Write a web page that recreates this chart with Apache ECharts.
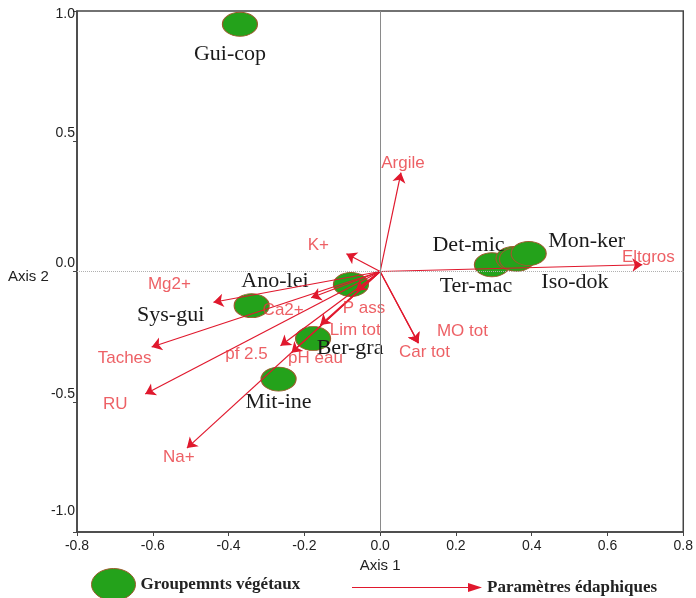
<!DOCTYPE html>
<html>
<head>
<meta charset="utf-8">
<script src="https://cdn.jsdelivr.net/npm/echarts@6/dist/echarts.min.js"></script>
<style>
html,body{margin:0;padding:0;background:#fff;}
#chart{width:696px;height:598px;}
</style>
</head>
<body>
<div id="chart"></div>
<script>
// Sites (vegetation groups)
const siteNames = ['Gui-cop','Ano-lei','Sys-gui','Ber-gra','Mit-ine','Ter-mac','Det-mic','Iso-dok','Mon-ker'];
const siteX = [-0.370, -0.077, -0.339, -0.177, -0.268, 0.295, 0.352, 0.361, 0.392];
const siteY = [0.949, -0.050, -0.131, -0.257, -0.413, 0.026, 0.050, 0.047, 0.069];

// Soil parameters (arrow tips)
const paramNames = ['Argile','Eltgros','K+','Mg2+','Ca2+','Taches','RU','Na+','pf 2.5','pH eau','Lim tot','P ass','MO tot','Car tot'];
const paramX = [0.055, 0.692, -0.089, -0.440, -0.182, -0.603, -0.620, -0.510, -0.263, -0.234, -0.158, -0.064, 0.101, 0.101];
const paramY = [0.380, 0.026, 0.068, -0.118, -0.101, -0.290, -0.470, -0.678, -0.285, -0.312, -0.205, -0.074, -0.275, -0.275];

// Axis ticks
const xTicks = {min: -0.8, max: 0.8, interval: 0.2};
const yTicks = {min: -1.0, max: 1.0, interval: 0.5};

// label offsets (pixels, style only)
const siteLabelOffset = {
  'Gui-cop':[-10,30],'Ano-lei':[-76,-3],'Sys-gui':[-81,10],'Ber-gra':[37,10],'Mit-ine':[0,23],
  'Ter-mac':[-16,21],'Det-mic':[-45,-13],'Iso-dok':[58,23],'Mon-ker':[58,-12]
};
const paramLabelOffset = {
  'Argile':[2,-9],'Eltgros':[6,-7],'K+':[-28,-8],'Mg2+':[-44,-18],'Ca2+':[-28,13],'Taches':[-27,11],
  'RU':[-30,10],'Na+':[-8,9],'pf 2.5':[-34,9],'pH eau':[24,6],'Lim tot':[35,5],'P ass':[8,18],
  'MO tot':[44,-12],'Car tot':[6,9]
};

const RED = '#e0182d';
const LABEL_RED = '#e8383f';
const GREEN = '#24a21b';
const BROWN = '#9b5b2b';

const chart = echarts.init(document.getElementById('chart'));

const option = {
  animation: false,
  backgroundColor: '#fff',
  grid: {left: 77, right: 9, top: 11, bottom: 66, show: true, borderColor: '#444', borderWidth: 1.5, backgroundColor: 'transparent'},
  xAxis: {
    type: 'value', min: xTicks.min, max: xTicks.max, interval: xTicks.interval,
    axisLine: {onZero: false, lineStyle: {color: '#444', width: 1.5}},
    axisTick: {length: 4, lineStyle: {color: '#444'}},
    axisLabel: {formatter: v => v.toFixed(1), color: '#222', fontSize: 14, fontFamily: 'Liberation Sans', margin: 7, showMinLabel: true, showMaxLabel: true},
    splitLine: {show: false},
    name: 'Axis 1', nameLocation: 'middle', nameGap: 24,
    nameTextStyle: {color: '#222', fontSize: 15, fontFamily: 'Liberation Sans'}
  },
  yAxis: {
    type: 'value', min: yTicks.min, max: yTicks.max, interval: yTicks.interval,
    axisLine: {onZero: false, lineStyle: {color: '#444', width: 1.5}},
    axisTick: {length: 4, lineStyle: {color: '#444'}},
    axisLabel: {
      color: '#222', fontSize: 14, fontFamily: 'Liberation Sans', margin: 2,
      showMinLabel: true, showMaxLabel: true,
      formatter: v => {
        const t = v.toFixed(1);
        if (v >= yTicks.max - 1e-9) return '{t|' + t + '}';
        if (v <= yTicks.min + 1e-9) return '{b|' + t + '}';
        return '{m|' + t + '}';
      },
      rich: {
        t: {fontSize: 14, fontFamily: 'Liberation Sans', color: '#222', padding: [6, 0, 0, 0]},
        m: {fontSize: 14, fontFamily: 'Liberation Sans', color: '#222', padding: [0, 0, 16, 0]},
        b: {fontSize: 14, fontFamily: 'Liberation Sans', color: '#222', padding: [0, 0, 42, 0]}
      }
    },
    splitLine: {show: false}
  },
  legend: [
    {
      left: 91, top: 568, padding: 0, selectedMode: false, itemWidth: 44, itemHeight: 32,
      data: [{name: 'Groupemnts végétaux', icon: 'path://M0,16A22,16 0 1,0 44,16A22,16 0 1,0 0,16Z', itemStyle: {color: GREEN, borderColor: BROWN, borderWidth: 1}}],
      textStyle: {fontFamily: 'Liberation Serif', fontWeight: 'bold', fontSize: 17, color: '#222'}
    },
    {
      left: 352, top: 579, padding: 0, selectedMode: false, itemWidth: 130, itemHeight: 10,
      data: [{name: 'Paramètres édaphiques', icon: 'path://M0,4.4L116,4.4L116,5.6L0,5.6Z M116,0.5L130,5L116,9.5Z', itemStyle: {color: RED, borderWidth: 0}}],
      textStyle: {fontFamily: 'Liberation Serif', fontWeight: 'bold', fontSize: 17, color: '#222'}
    }
  ],
  graphic: [
    {type: 'text', left: 8, top: 269, style: {text: 'Axis 2', fontSize: 15, fontFamily: 'Liberation Sans', fill: '#222'}}
  ],
  series: [
    {
      type: 'scatter', name: 'zero', data: [], z: 1, silent: true,
      markLine: {
        silent: true, symbol: 'none', label: {show: false}, animation: false,
        data: [
          {xAxis: 0, lineStyle: {color: '#8a8a8a', width: 1, type: 'solid'}},
          {yAxis: 0, lineStyle: {color: '#b0b0b0', width: 1, type: 'dotted'}}
        ]
      }
    },
    {
      type: 'scatter', name: 'Groupemnts végétaux', z: 2,
      symbol: 'circle', symbolSize: [35, 24],
      itemStyle: {color: GREEN, borderColor: BROWN, borderWidth: 1, opacity: 1},
      data: siteNames.map((n, i) => ({
        name: n, value: [siteX[i], siteY[i]],
        label: {offset: siteLabelOffset[n]}
      })),
      label: {
        show: true, position: 'inside', formatter: '{b}',
        fontFamily: 'Liberation Serif', fontSize: 22, color: '#1a1a1a'
      },
      emphasis: {disabled: true}
    },
    {
      type: 'lines', name: 'Paramètres édaphiques', coordinateSystem: 'cartesian2d', z: 3,
      symbol: ['none', 'arrow'], symbolSize: 10,
      lineStyle: {color: RED, width: 1.2, opacity: 1, curveness: 0},
      data: paramNames.map((n, i) => ({name: n, coords: [[0, 0], [paramX[i], paramY[i]]]})),
      silent: true
    },
    {
      type: 'scatter', name: 'paramLabels', z: 4, silent: true,
      symbolSize: 1, itemStyle: {color: 'rgba(0,0,0,0)'},
      data: paramNames.map((n, i) => ({
        name: n, value: [paramX[i], paramY[i]],
        label: {offset: paramLabelOffset[n]}
      })),
      label: {
        show: true, position: 'inside', formatter: '{b}',
        fontFamily: 'Liberation Sans', fontSize: 17, color: LABEL_RED
      },
      emphasis: {disabled: true}
    }
  ]
};
chart.setOption(option);
</script>
</body>
</html>
